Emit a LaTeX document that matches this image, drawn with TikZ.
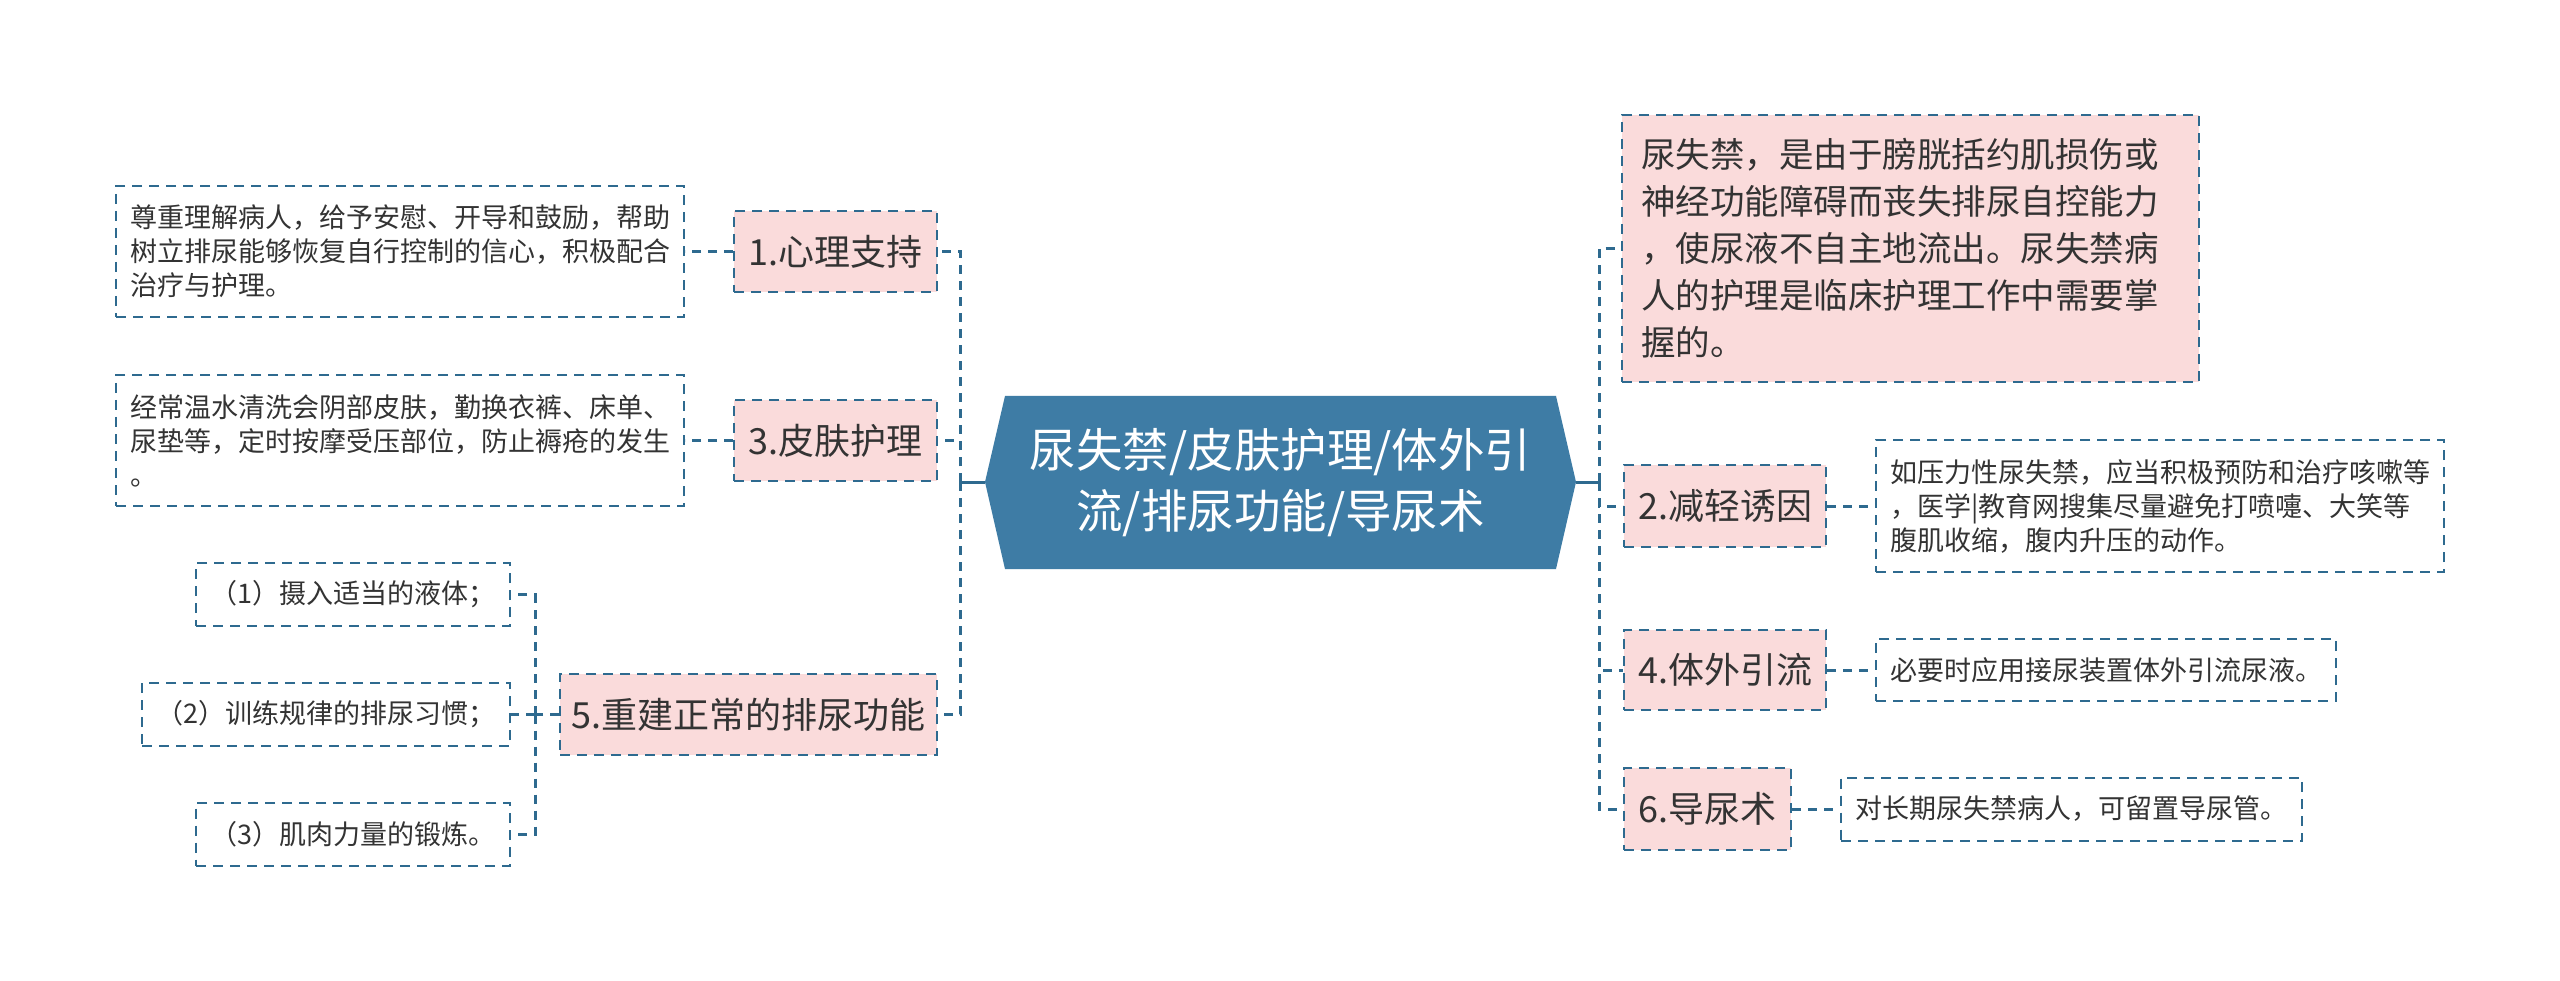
\documentclass[tikz,border=0pt]{standalone}
\usepackage{fontspec}
\setmainfont{Noto Sans CJK SC}
\definecolor{bd}{HTML}{2E6A8F}
\definecolor{cfill}{HTML}{3E7CA5}
\definecolor{pk}{HTML}{FADBDB}
\definecolor{tx}{HTML}{333333}
\tikzset{
  box/.style={draw=bd, dash pattern=on 10pt off 7pt, line width=2pt, inner sep=0pt, align=left, text=tx},
  branch/.style={box, fill=pk, font=\fontsize{36}{44}\selectfont},
  leaf/.style={box, font=\fontsize{27}{34}\selectfont},
  conn/.style={draw=bd, line width=3pt, dash pattern=on 9pt off 7pt},
  solidconn/.style={draw=bd, line width=3pt},
}
\begin{document}
\begin{tikzpicture}[x=1pt,y=-1pt]
\useasboundingbox[fill=white] (0,0) rectangle (2560,981);

% central node
\fill[cfill] (985,482) -- (1005,396) -- (1556,396) -- (1576,482) -- (1556,569) -- (1005,569) -- cycle;
\node[text=white, align=center, font=\fontsize{46.5}{61}\selectfont, inner sep=0pt] (c) at (1280.5,482.5) {尿失禁/皮肤护理/体外引\\流/排尿功能/导尿术};
\coordinate (cl) at (985,482);
\coordinate (cr) at (1576,482);
\coordinate (tl) at (960,482);
\coordinate (tr) at (1599,482);

% left branches
\node[branch, minimum width=203pt, minimum height=81pt] (b1) at (835.5,251.5) {1.心理支持};
\node[branch, minimum width=203pt, minimum height=81pt] (b3) at (835.5,440.5) {3.皮肤护理};
\node[branch, minimum width=377pt, minimum height=81pt] (b5) at (748.5,714.5) {5.重建正常的排尿功能};

\node[leaf, minimum width=568pt, minimum height=131pt] (l1) at (400,251.5) {尊重理解病人，给予安慰、开导和鼓励，帮助\\树立排尿能够恢复自行控制的信心，积极配合\\治疗与护理。};
\node[leaf, minimum width=568pt, minimum height=131pt] (l3) at (400,440.5) {经常温水清洗会阴部皮肤，勤换衣裤、床单、\\尿垫等，定时按摩受压部位，防止褥疮的发生\\。};

\node[leaf, minimum width=314pt, minimum height=63pt] (s1) at (353,594.5) {（1）摄入适当的液体；};
\node[leaf, minimum width=368pt, minimum height=63pt] (s2) at (326,714.5) {（2）训练规律的排尿习惯；};
\node[leaf, minimum width=314pt, minimum height=63pt] (s3) at (353,834) {（3）肌肉力量的锻炼。};
\coordinate (sj) at (535,714.5);

% right branches
\node[box, fill=pk, font=\fontsize{34.5}{47}\selectfont, text width=539pt, minimum width=577pt, minimum height=267pt] (r0) at (1910.5,248.5) {尿失禁，是由于膀胱括约肌损伤或\\神经功能障碍而丧失排尿自控能力\\，使尿液不自主地流出。尿失禁病\\人的护理是临床护理工作中需要掌\\握的。};
\node[branch, minimum width=202pt, minimum height=82pt] (b2) at (1725,506) {2.减轻诱因};
\node[branch, minimum width=202pt, minimum height=80pt] (b4) at (1725,670) {4.体外引流};
\node[branch, minimum width=167pt, minimum height=82pt] (b6) at (1707.5,809) {6.导尿术};

\node[leaf, minimum width=568pt, minimum height=132pt] (l2) at (2160,506) {如压力性尿失禁，应当积极预防和治疗咳嗽等\\，医学|教育网搜集尽量避免打喷嚏、大笑等\\腹肌收缩，腹内升压的动作。};
\node[leaf, minimum width=460pt, minimum height=62pt] (l4) at (2106,670) {必要时应用接尿装置体外引流尿液。};
\node[leaf, minimum width=461pt, minimum height=63pt] (l6) at (2071.5,809) {对长期尿失禁病人，可留置导尿管。};

% connectors
\draw[solidconn] (cl) -- (tl);
\draw[solidconn] (cr) -- (tr);
\draw[conn] (tl) |- (b1.east);
\draw[conn] (tl) |- (b3.east);
\draw[conn] (tl) |- (b5.east);
\draw[conn] (tr) |- (r0.west);
\draw[conn] (tr) |- (b2.west);
\draw[conn] (tr) |- (b4.west);
\draw[conn] (tr) |- (b6.west);

\draw[conn] (b1.west) -- (l1.east);
\draw[conn] (b3.west) -- (l3.east);
\draw[conn] (b5.west) -- (sj);
\draw[conn] (sj) |- (s1.east);
\draw[conn] (sj) -- (s2.east);
\draw[conn] (sj) |- (s3.east);

\draw[conn] (b2.east) -- (l2.west);
\draw[conn] (b4.east) -- (l4.west);
\draw[conn] (b6.east) -- (l6.west);
\end{tikzpicture}
\end{document}
